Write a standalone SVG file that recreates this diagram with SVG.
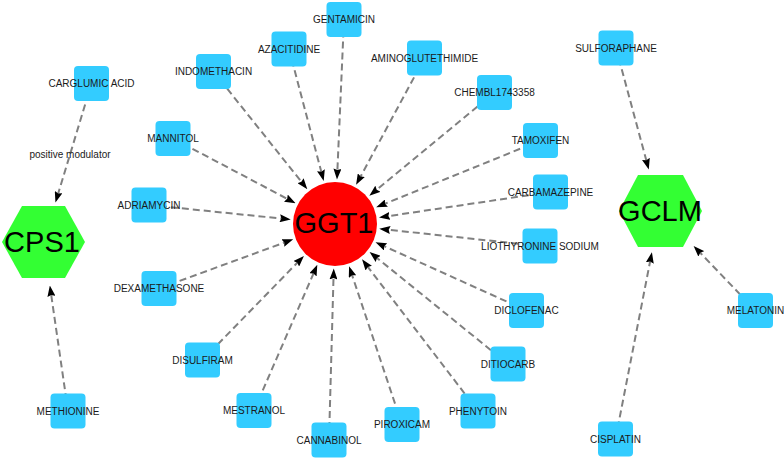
<svg xmlns="http://www.w3.org/2000/svg" width="784" height="459" viewBox="0 0 784 459">
<style>
.e{stroke:#808080;stroke-width:2;stroke-dasharray:7,4;fill:none;marker-end:url(#arr)}
.d rect{fill:#33CCFF;width:35px;height:35px}
.d text{font-family:"Liberation Sans",Arial,sans-serif;font-size:10px;fill:#1a1a1a;text-anchor:middle}
.big{font-family:"Liberation Sans",Arial,sans-serif;font-size:29px;fill:#000;text-anchor:middle}
.lbl{font-family:"Liberation Sans",Arial,sans-serif;font-size:10px;fill:#1a1a1a;text-anchor:middle}
</style>
<defs>
<marker id="arr" markerUnits="userSpaceOnUse" markerWidth="11" markerHeight="8" refX="1.5" refY="4" orient="auto" viewBox="0 0 11 8">
<path d="M0,0 L11,4 L0,8 L1.5,4 z" fill="#000"/>
</marker>
</defs>
<rect width="784" height="459" fill="#fff"/>
<g id="connectors">
<line class="e" x1="213.5" y1="71.5" x2="301.4" y2="181.8"/>
<line class="e" x1="173" y1="138.5" x2="287.2" y2="198.8"/>
<line class="e" x1="149" y1="205" x2="281.3" y2="218.5"/>
<line class="e" x1="159" y1="288.5" x2="284.3" y2="242.6"/>
<line class="e" x1="202.5" y1="360" x2="297.3" y2="262.7"/>
<line class="e" x1="254" y1="410.5" x2="313.5" y2="273.5"/>
<line class="e" x1="329" y1="440" x2="333.5" y2="278"/>
<line class="e" x1="402" y1="424.5" x2="352.1" y2="275.2"/>
<line class="e" x1="478" y1="411" x2="367.8" y2="266.9"/>
<line class="e" x1="508" y1="364" x2="377" y2="258"/>
<line class="e" x1="526.5" y1="310.5" x2="384.2" y2="246.2"/>
<line class="e" x1="540" y1="246" x2="388.7" y2="229.8"/>
<line class="e" x1="550.5" y1="192" x2="388.4" y2="216.1"/>
<line class="e" x1="540.5" y1="140.5" x2="385" y2="203.7"/>
<line class="e" x1="494.5" y1="92.5" x2="376.7" y2="189.7"/>
<line class="e" x1="424.5" y1="58" x2="360.6" y2="176.5"/>
<line class="e" x1="344" y1="19.5" x2="337.4" y2="170.1"/>
<line class="e" x1="289" y1="49" x2="321.3" y2="171.8"/>
<line class="e" x1="91.5" y1="83.5" x2="58.2" y2="193.5"/>
<line class="e" x1="68" y1="411" x2="51.2" y2="294.9"/>
<line class="e" x1="616" y1="48" x2="646.3" y2="160.3"/>
<line class="e" x1="615.5" y1="439" x2="650.1" y2="261.5"/>
<line class="e" x1="755.5" y1="310.5" x2="700.2" y2="252.8"/>
<text class="lbl" x="70" y="157.5">positive modulator</text>
</g>
<g id="GGT1"><circle cx="335" cy="224" r="42" fill="#FF0000"/><text class="big" x="334" y="233">GGT1</text></g>
<g id="CPS1"><polygon points="2,242 22,206 65,206 85,242 65,278 22,278" fill="#33FF33"/><text class="big" x="42" y="252">CPS1</text></g>
<g id="GCLM"><polygon points="619,211 638,175 683,175 702,211 683,247 638,247" fill="#33FF33"/><text class="big" x="660" y="221">GCLM</text></g>
<g id="n-carglumic" class="d"><rect x="74" y="66" rx="4"/><text x="91.5" y="87">CARGLUMIC ACID</text></g>
<g id="n-indomethacin" class="d"><rect x="196" y="54" rx="4"/><text x="213.5" y="75">INDOMETHACIN</text></g>
<g id="n-mannitol" class="d"><rect x="155.5" y="121" rx="4"/><text x="173" y="142">MANNITOL</text></g>
<g id="n-adriamycin" class="d"><rect x="131.5" y="187.5" rx="4"/><text x="149" y="208.5">ADRIAMYCIN</text></g>
<g id="n-dexamethasone" class="d"><rect x="141.5" y="271" rx="4"/><text x="159" y="292">DEXAMETHASONE</text></g>
<g id="n-disulfiram" class="d"><rect x="185" y="342.5" rx="4"/><text x="202.5" y="363.5">DISULFIRAM</text></g>
<g id="n-methionine" class="d"><rect x="50.5" y="393.5" rx="4"/><text x="68" y="414.5">METHIONINE</text></g>
<g id="n-mestranol" class="d"><rect x="236.5" y="393" rx="4"/><text x="254" y="414">MESTRANOL</text></g>
<g id="n-cannabinol" class="d"><rect x="311.5" y="422.5" rx="4"/><text x="329" y="443.5">CANNABINOL</text></g>
<g id="n-piroxicam" class="d"><rect x="384.5" y="407" rx="4"/><text x="402" y="428">PIROXICAM</text></g>
<g id="n-phenytoin" class="d"><rect x="460.5" y="393.5" rx="4"/><text x="478" y="414.5">PHENYTOIN</text></g>
<g id="n-ditiocarb" class="d"><rect x="490.5" y="346.5" rx="4"/><text x="508" y="367.5">DITIOCARB</text></g>
<g id="n-diclofenac" class="d"><rect x="509" y="293" rx="4"/><text x="526.5" y="314">DICLOFENAC</text></g>
<g id="n-liothyronine" class="d"><rect x="522.5" y="228.5" rx="4"/><text x="540" y="249.5">LIOTHYRONINE SODIUM</text></g>
<g id="n-carbamazepine" class="d"><rect x="533" y="174.5" rx="4"/><text x="550.5" y="195.5">CARBAMAZEPINE</text></g>
<g id="n-tamoxifen" class="d"><rect x="523" y="123" rx="4"/><text x="540.5" y="144">TAMOXIFEN</text></g>
<g id="n-chembl" class="d"><rect x="477" y="75" rx="4"/><text x="494.5" y="96">CHEMBL1743358</text></g>
<g id="n-aminoglutethimide" class="d"><rect x="407" y="40.5" rx="4"/><text x="424.5" y="61.5">AMINOGLUTETHIMIDE</text></g>
<g id="n-gentamicin" class="d"><rect x="326.5" y="2" rx="4"/><text x="344" y="23">GENTAMICIN</text></g>
<g id="n-azacitidine" class="d"><rect x="271.5" y="31.5" rx="4"/><text x="289" y="52.5">AZACITIDINE</text></g>
<g id="n-sulforaphane" class="d"><rect x="598.5" y="30.5" rx="4"/><text x="616" y="51.5">SULFORAPHANE</text></g>
<g id="n-cisplatin" class="d"><rect x="598" y="421.5" rx="4"/><text x="615.5" y="442.5">CISPLATIN</text></g>
<g id="n-melatonin" class="d"><rect x="738" y="293" rx="4"/><text x="755.5" y="314">MELATONIN</text></g>
</svg>
